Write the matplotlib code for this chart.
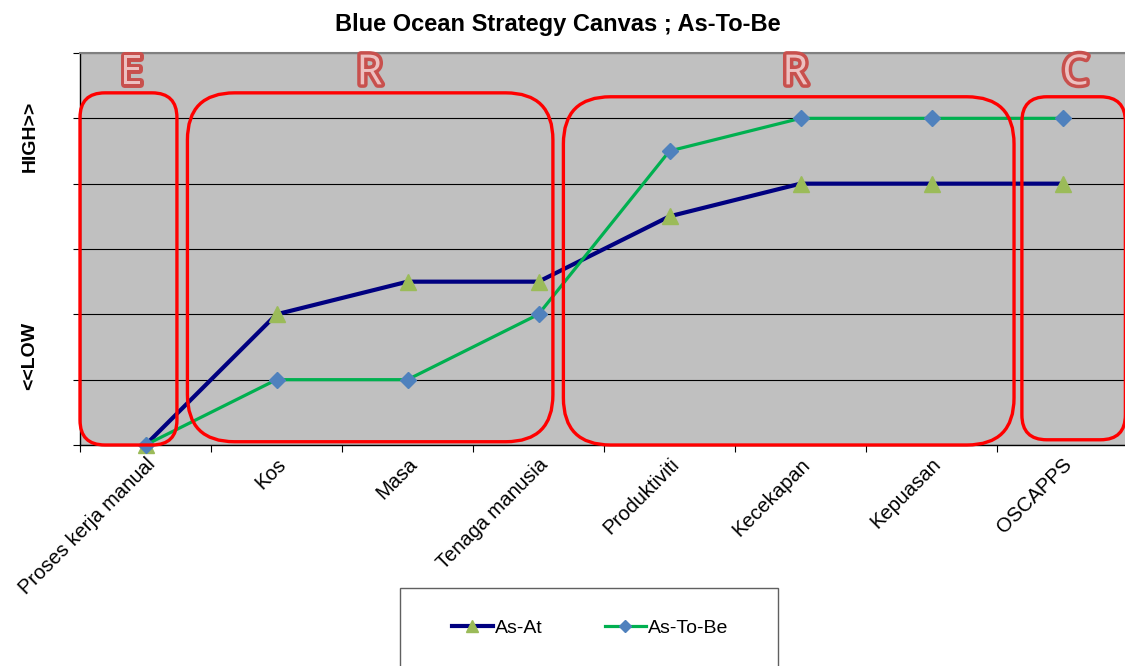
import matplotlib
matplotlib.use("Agg")
import matplotlib.pyplot as plt
import matplotlib.patheffects as pe
from matplotlib.patches import FancyBboxPatch, Rectangle
from matplotlib.lines import Line2D

plt.rcParams["font.family"] = ["Liberation Sans", "DejaVu Sans"]

# ── 数据 ──
categories = ["Proses kerja manual", "Kos", "Masa", "Tenaga manusia",
              "Produktiviti", "Kecekapan", "Kepuasan", "OSCAPPS"]
as_at = [0, 2, 2.5, 2.5, 3.5, 4, 4, 4]
as_to_be = [0, 1, 1, 2, 4.5, 5, 5, 5]

# ERRC 分组框: (字母, x0, x1, y0, y1, 圆角)
groups = [
    ("E", -0.5, 0.24, 0.0, 5.39, 0.19),
    ("R", 0.32, 3.11, 0.05, 5.39, 0.36),
    ("R", 3.19, 6.63, 0.0, 5.33, 0.36),
    ("C", 6.69, 7.48, 0.08, 5.33, 0.19),
]
letter_x = [-0.11, 1.71, 4.96, 7.1]

fig = plt.figure(figsize=(11.25, 6.66), dpi=100)
ax = fig.add_axes([80 / 1125, 221 / 666, 1048 / 1125, 392 / 666])
ax.set_facecolor("#C0C0C0")

x = list(range(len(categories)))
ax.plot(x, as_at, color="#000080", lw=3.0, marker="^", ms=11,
        mfc="#9BBB59", mec="#9BBB59", label="As-At", clip_on=False, zorder=3)
ax.plot(x, as_to_be, color="#00B050", lw=2.3, marker="D", ms=8,
        mfc="#4F81BD", mec="#4F81BD", label="As-To-Be", clip_on=False, zorder=4)

ax.set_xlim(-0.5, len(categories) - 0.5)
ax.set_ylim(0, 6)
ax.set_yticks(range(7))
ax.set_yticklabels([])
ax.grid(axis="y", color="black", lw=0.8)
ax.set_axisbelow(True)
ax.tick_params(axis="y", direction="out", length=5, width=0.8)

# 类别刻度在格子边界，标签在格子中心
ax.set_xticks([i - 0.5 for i in range(len(categories) + 1)])
ax.set_xticklabels([])
ax.set_xticks(x, minor=True)
ax.set_xticklabels(categories, minor=True, rotation=45, ha="right", va="top",
                   rotation_mode="anchor", fontsize=14.5)
ax.tick_params(axis="x", which="major", direction="out", length=5, width=0.8)
ax.tick_params(axis="x", which="minor", length=0, pad=7)

for s in ["left", "bottom"]:
    ax.spines[s].set_color("black")
    ax.spines[s].set_linewidth(1.0)
ax.spines["top"].set_color("#808080")
ax.spines["top"].set_linewidth(1.5)
ax.spines["right"].set_visible(False)

# 圆角框：按像素比例修正 y 方向圆角
px_x = ax.bbox.width / 8.0
px_y = ax.bbox.height / 6.0
aspect = px_x / px_y
for (ch, x0, x1, y0, y1, r), lx in zip(groups, letter_x):
    box = FancyBboxPatch((x0, y0), x1 - x0, y1 - y0,
                         boxstyle=f"round,pad=0,rounding_size={r}",
                         mutation_aspect=aspect, fill=False,
                         ec="#FF0000", lw=2.4, clip_on=False, zorder=5)
    ax.add_patch(box)
    ax.text(lx, 5.52, ch, ha="center", va="baseline", fontsize=30,
            family="Open Sans", color="#EDC0C0", zorder=6,
            path_effects=[pe.withStroke(linewidth=5, foreground="#C8504D")])

fig.text(0.496, 1 - 25 / 666, "Blue Ocean Strategy Canvas ; As-To-Be",
         ha="center", va="center", fontsize=17, fontweight="bold")
fig.text(30 / 1125, 1 - 136 / 666, "HIGH>>", rotation=90, ha="center",
         va="center", fontsize=14, fontweight="bold")
fig.text(30 / 1125, 1 - 356 / 666, "<<LOW", rotation=90, ha="center",
         va="center", fontsize=14, fontweight="bold")

# 图例框（下沿超出画布）
fig.patches.append(Rectangle((400 / 1125, -0.1), 378 / 1125, 0.1 + 78 / 666,
                             transform=fig.transFigure, fc="white",
                             ec="#606060", lw=1.0))
handles = [
    Line2D([], [], color="#000080", lw=3.0, marker="^", ms=9,
           mfc="#9BBB59", mec="#9BBB59"),
    Line2D([], [], color="#00B050", lw=2.3, marker="D", ms=6,
           mfc="#4F81BD", mec="#4F81BD"),
]
fig.legend(handles, ["As-At", "As-To-Be"], loc="center",
           bbox_to_anchor=(590 / 1125, 1 - 628 / 666), ncol=2, frameon=False,
           fontsize=14, handlelength=2.1, handletextpad=0.1, columnspacing=3.2)

fig.savefig("out.png", dpi=100)
